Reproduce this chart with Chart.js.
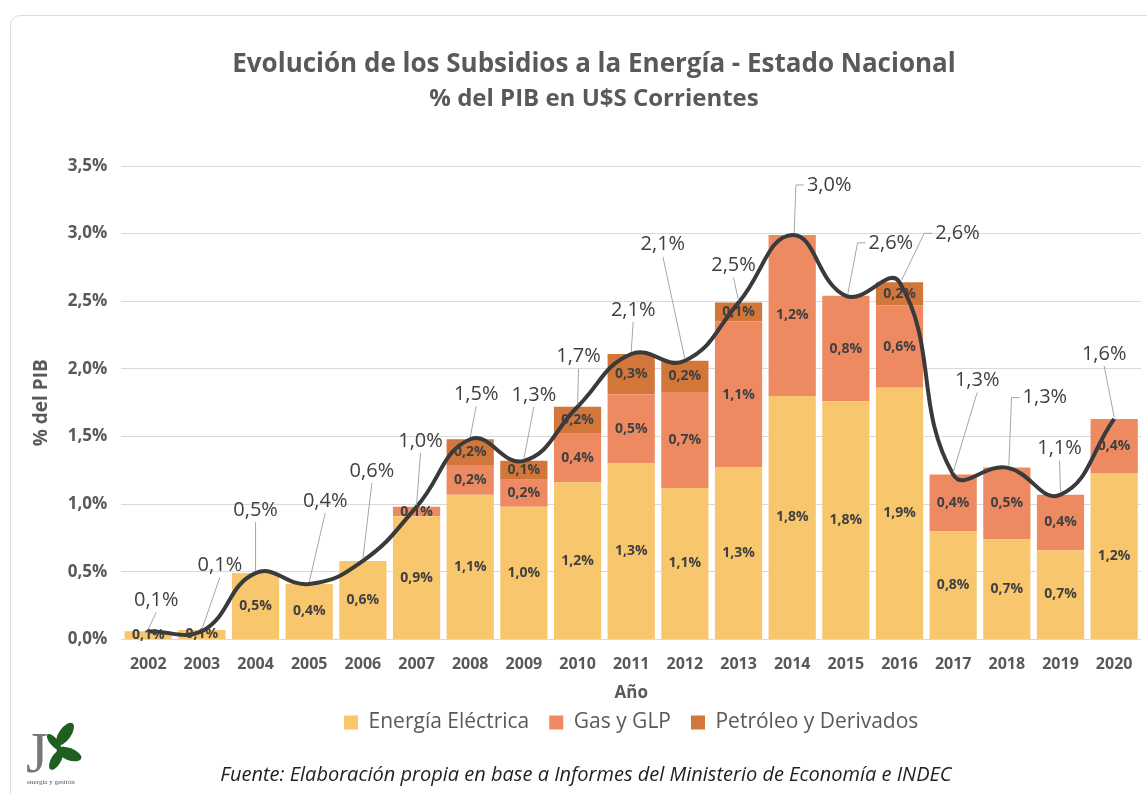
<!DOCTYPE html>
<html lang="es">
<head>
<meta charset="utf-8">
<title>Subsidios a la Energía</title>
<script src="https://cdn.jsdelivr.net/npm/chart.js@4.4.1/dist/chart.umd.min.js"></script>
<style>
  html, body { margin: 0; padding: 0; background: #fff; }
  #wrap { position: relative; width: 1147px; height: 794px; overflow: hidden; }
  #marco { position: absolute; left: 10px; top: 15px; width: 1160px; height: 800px; border: 1px solid #dcdcdc; border-radius: 10px; }
  #grafico { position: absolute; left: 0; top: 0; }
  .tit { position: absolute; left: 0; width: 1188px; text-align: center; color: #595959; font-family: 'Open Sans', sans-serif; font-weight: bold; line-height: 30px; white-space: nowrap; }
  #titulo { top: 47px; font-size: 26px; }
  #subtitulo { top: 82px; font-size: 24px; }
  #fuente { position: absolute; left: 0; top: 760px; width: 1172px; text-align: center; font: italic 20px 'Open Sans', sans-serif; color: #222; }
  #logo { position: absolute; left: 25px; top: 716px; }
</style>
</head>
<body>
<div id="wrap">
  <div id="marco"></div>
  <canvas id="grafico" width="1147" height="794"></canvas>
  <div id="titulo" class="tit">Evolución de los Subsidios a la Energía - Estado Nacional</div>
  <div id="subtitulo" class="tit">% del PIB en U$S Corrientes</div>
  <svg id="logo" width="60" height="72" viewBox="0 0 60 72">
    <text x="1" y="56" font-family="Liberation Serif, serif" font-size="56" fill="#777">J</text>
    <g fill="#1f5f1f">
      <ellipse cx="40" cy="18" rx="6" ry="13" transform="rotate(35 40 18)"/>
      <ellipse cx="44" cy="38" rx="6" ry="13" transform="rotate(-70 44 38)"/>
      <ellipse cx="31" cy="44" rx="5" ry="11" transform="rotate(30 31 44)"/>
      <ellipse cx="29" cy="26" rx="4" ry="10" transform="rotate(-40 29 26)"/>
    </g>
    <text x="2" y="68" font-family="Liberation Serif, serif" font-size="7" fill="#555">energía y gestión</text>
  </svg>
  <div id="fuente">Fuente: Elaboración propia en base a Informes del Ministerio de Economía e INDEC</div>
</div>
<script>
// Datos (% del PIB)
const anios = ['2002', '2003', '2004', '2005', '2006', '2007', '2008', '2009', '2010', '2011',
  '2012', '2013', '2014', '2015', '2016', '2017', '2018', '2019', '2020'];
const energiaElectrica = [0.06, 0.07, 0.49, 0.41, 0.58, 0.91, 1.07, 0.98, 1.16, 1.30,
  1.12, 1.27, 1.80, 1.76, 1.86, 0.80, 0.74, 0.66, 1.23];
const gasGLP = [0, 0, 0, 0, 0, 0.07, 0.22, 0.20, 0.36, 0.51,
  0.71, 1.08, 1.19, 0.78, 0.61, 0.42, 0.53, 0.41, 0.40];
const petroleo = [0, 0, 0, 0, 0, 0, 0.19, 0.14, 0.20, 0.30,
  0.23, 0.14, 0, 0, 0.17, 0, 0, 0, 0];
const total = [0.06, 0.06, 0.49, 0.41, 0.58, 0.98, 1.48, 1.32, 1.72, 2.11,
  2.06, 2.49, 2.99, 2.54, 2.64, 1.22, 1.27, 1.07, 1.63];
const etiquetasTotal = ['0,1%', '0,1%', '0,5%', '0,4%', '0,6%', '1,0%', '1,5%', '1,3%', '1,7%', '2,1%',
  '2,1%', '2,5%', '3,0%', '2,6%', '2,6%', '1,3%', '1,3%', '1,1%', '1,6%'];

// Posicion de las etiquetas del total respecto del punto (px)
const desplazamientos = [[8, -31], [18, -66], [0, -63], [16, -83], [9, -90], [4, -66], [6, -45], [10, -66],
  [1, -50], [2, -44], [-22, -116], [-5, -37], [37, -50], [45, -53], [58, -49], [24, -94], [38, -70],
  [-1, -46], [-10, -65]];

const fuente = "'Open Sans', 'Noto Sans', sans-serif";
const formato = v => v.toFixed(1).replace('.', ',') + '%';

// Etiquetas dentro de las barras
const etiquetasBarras = {
  id: 'etiquetasBarras',
  afterDatasetsDraw(chart) {
    const ctx = chart.ctx;
    ctx.save();
    ctx.font = 'bold 14px ' + fuente;
    ctx.fillStyle = '#404040';
    ctx.textAlign = 'center';
    ctx.textBaseline = 'middle';
    chart.data.datasets.forEach((ds, i) => {
      if (ds.type === 'line') return;
      chart.getDatasetMeta(i).data.forEach((bar, j) => {
        const v = ds.data[j];
        if (!v) return;
        ctx.fillText(formato(v), bar.x, (bar.y + bar.base) / 2);
      });
    });
    ctx.restore();
  }
};

// Etiquetas del total con lineas guia
const etiquetasTotales = {
  id: 'etiquetasTotales',
  afterDraw(chart) {
    const ctx = chart.ctx;
    const idx = chart.data.datasets.findIndex(d => d.type === 'line');
    const puntos = chart.getDatasetMeta(idx).data;
    ctx.save();
    ctx.font = '20px ' + fuente;
    ctx.textBaseline = 'middle';
    ctx.textAlign = 'center';
    puntos.forEach((p, j) => {
      const [dx, dy] = desplazamientos[j];
      const lx = p.x + dx, ly = p.y + dy;
      const texto = etiquetasTotal[j];
      const w = ctx.measureText(texto).width;
      ctx.strokeStyle = '#a6a6a6';
      ctx.lineWidth = 1;
      ctx.beginPath();
      if (dx >= 30) {
        const x0 = lx - w / 2 - 3;
        ctx.moveTo(x0, ly);
        ctx.lineTo(x0 - 8, ly);
        ctx.lineTo(p.x + 2, p.y - 2);
      } else {
        ctx.moveTo(lx, ly + 12);
        ctx.lineTo(p.x, p.y - 2);
      }
      ctx.stroke();
      ctx.fillStyle = '#404040';
      ctx.fillText(texto, lx, ly);
    });
    ctx.restore();
  }
};

new Chart(document.getElementById('grafico'), {
  data: {
    labels: anios,
    datasets: [
      {
        type: 'line', label: 'Total', data: total, stack: 'total', order: 0,
        borderColor: '#3a3a3a', borderWidth: 4, pointRadius: 0, tension: 0.45, fill: false
      },
      { type: 'bar', label: 'Energía Eléctrica', data: energiaElectrica, backgroundColor: '#f8c66d', stack: 'barras', order: 1 },
      { type: 'bar', label: 'Gas y GLP', data: gasGLP, backgroundColor: '#ed8a62', stack: 'barras', order: 1 },
      { type: 'bar', label: 'Petróleo y Derivados', data: petroleo, backgroundColor: '#d2763a', stack: 'barras', order: 1 }
    ]
  },
  options: {
    responsive: false,
    animation: false,
    barPercentage: 0.88,
    categoryPercentage: 1,
    layout: { padding: { left: 26, right: 6, top: 166, bottom: 51 } },
    plugins: {
      title: { display: false },
      legend: {
        position: 'bottom',
        fullSize: false,
        labels: {
          filter: item => item.text !== 'Total',
          color: '#595959',
          font: { family: fuente, size: 21 },
          boxWidth: 14,
          boxHeight: 14,
          padding: 20
        }
      },
      tooltip: { enabled: false }
    },
    scales: {
      x: {
        stacked: true,
        grid: { display: false },
        border: { display: false },
        ticks: { color: '#595959', font: { family: fuente, size: 16, weight: 'bold' }, padding: 7 },
        title: { display: true, text: 'Año', color: '#595959', font: { family: fuente, size: 17, weight: 'bold' }, padding: { top: 2, bottom: -11 } }
      },
      y: {
        stacked: true,
        min: 0,
        max: 3.5,
        ticks: { stepSize: 0.5, color: '#595959', font: { family: fuente, size: 17, weight: 'bold' }, padding: 14, callback: v => formato(v) },
        grid: { color: '#d9d9d9', drawTicks: false },
        border: { display: false },
        title: { display: true, text: '% del PIB', color: '#595959', font: { family: fuente, size: 19, weight: 'bold' }, padding: { bottom: 1 } }
      }
    }
  },
  plugins: [etiquetasBarras, etiquetasTotales]
});
</script>
</body>
</html>
